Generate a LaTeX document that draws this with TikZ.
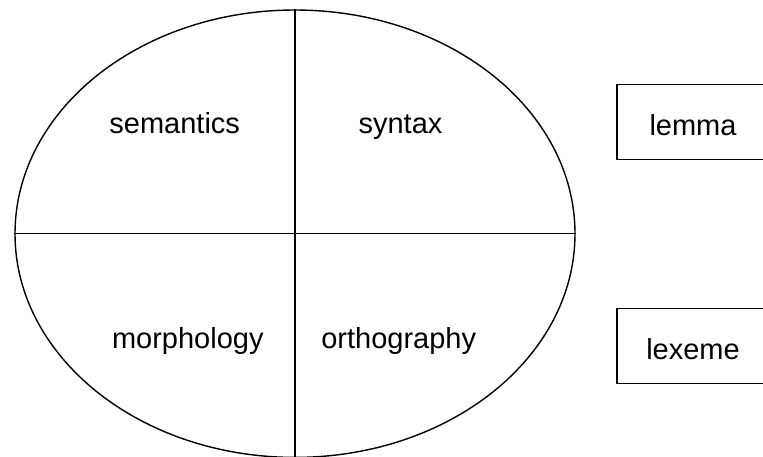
\documentclass[tikz,border=0pt]{standalone}
\usepackage{fontspec}
\setmainfont{Liberation Sans}
\usetikzlibrary{shapes.geometric}
\begin{document}
\begin{tikzpicture}[x=1pt,y=-1pt,
  line width=1.4pt,
  lbl/.style={font=\fontsize{29}{32}\selectfont, inner sep=0pt, anchor=base},
  termbox/.style={draw, rectangle, minimum width=152pt, minimum height=75pt, inner sep=0pt,
     font=\fontsize{29}{32}\selectfont, text depth=0pt, text height=26.6pt}]
\clip (0,0) rectangle (763,456);
\useasboundingbox (0,0) rectangle (763,456);
\node[draw, ellipse, inner sep=0pt, minimum width=560pt, minimum height=447.4pt] (ell) at (295,233.7) {};
\draw (ell.north) -- (ell.south);
\draw (ell.west) -- (ell.east);
\node[lbl] (sem) at (174.7,133.3) {semantics};
\node[lbl] (syn) at (400.5,133.3) {syntax};
\node[lbl] (mor) at (187.8,348.3) {morphology};
\node[lbl] (ort) at (398.7,348.3) {orthography};
\node[termbox] (lemma) at (693,121.7) {lemma};
\node[termbox] (lexeme) at (693,346) {lexeme};
\end{tikzpicture}
\end{document}
